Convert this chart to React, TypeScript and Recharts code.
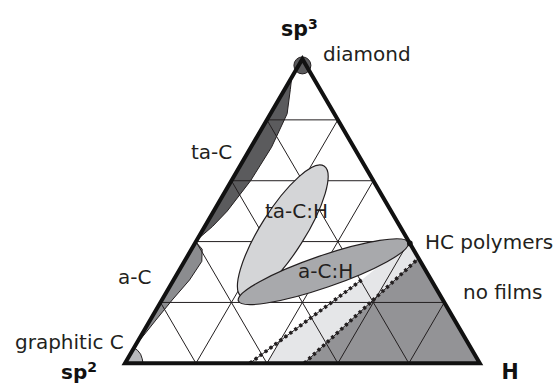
import React from "react";
import { Scatter, ScatterChart, XAxis, YAxis } from "recharts";

// ternary points are [sp3, H]; sp2 is what is left over
type TPoint = [number, number];

const CORNERS: TPoint[] = [
  [0, 0],
  [0, 1],
  [1, 0],
];
const GRID_LEVELS = [0.2, 0.4, 0.6, 0.8];

const DIAMOND: TPoint[] = [[0.979, 0.0105]];
const HC_POLYMERS: TPoint[] = [[0.394, 0.606]];

const TA_C: TPoint[] = [
  [0.94, 0], [0.9, 0.016], [0.82, 0.047], [0.71, 0.058],
  [0.6, 0.054], [0.5, 0.038], [0.45, 0.022], [0.405, 0],
];
const A_C: TPoint[] = [
  [0.399, 0], [0.375, 0.03], [0.335, 0.049], [0.274, 0.045],
  [0.208, 0.029], [0.142, 0.016], [0.093, 0.007], [0.06, 0],
];
const GRAPHITIC_C: TPoint[] = [
  [0, 0], [0.051, 0], [0.042, 0.015], [0.03, 0.029], [0.015, 0.041], [0, 0.051],
];

// ellipses: both ends of the long axis, then both ends of the short axis
const TA_C_H: TPoint[] = [[0.219, 0.219], [0.648, 0.237], [0.395, 0.3], [0.472, 0.156]];
const A_C_H: TPoint[] = [[0.205, 0.217], [0.397, 0.6], [0.253, 0.447], [0.352, 0.368]];

const LIMIT_LOW: TPoint[] = [[0, 0.352], [0.274, 0.53]];
const LIMIT_HIGH: TPoint[] = [[0, 0.505], [0.345, 0.655]];
const BAND: TPoint[] = [
  [0, 0.4], [0, 0.505], [0.345, 0.655], [0.397, 0.603],
  [0.397, 0.6], [0.274, 0.53], [0.074, 0.4],
];
const NO_FILMS: TPoint[] = [[0, 0.505], [0, 1], [0.345, 0.655]];

const LABELS = [
  { text: "diamond", x: 323, y: 60.5 },
  { text: "ta-C", x: 191, y: 158.5 },
  { text: "ta-C:H", x: 265, y: 217.5 },
  { text: "a-C:H", x: 298, y: 277.5 },
  { text: "a-C", x: 118, y: 283.5 },
  { text: "graphitic C", x: 15, y: 348.5 },
  { text: "HC polymers", x: 425, y: 248.5 },
  { text: "no films", x: 463, y: 298.5 },
];

const W = 556;
const H = 385;
// data frame so that sp2 corner sits at (125, 363.3) and the triangle is 354.8 x 304.3 px
const X_DOMAIN = [-0.3523, 1.2148];
const Y_DOMAIN = [-0.0713, 1.1939];

const toXY = ([sp3, h]: TPoint) => ({ x: h + sp3 / 2, y: sp3 });
const pts = (list: TPoint[]) => list.map(toXY);

const gridData = GRID_LEVELS.flatMap((k) =>
  pts([
    [k, 0], [k, 1 - k],
    [0, k], [1 - k, k],
    [0, 1 - k], [1 - k, 0],
  ]),
);

type P = { x: number; y: number };
const pathOf = (p: P[], close = false) =>
  p.map((q, i) => `${i ? "L" : "M"}${q.x},${q.y}`).join(" ") + (close ? " Z" : "");

const polygon =
  (fill: string, stroke = "none", strokeWidth = 1, close = false) =>
  (props: any) => (
    <path
      d={pathOf(props.points, close)}
      fill={fill}
      stroke={stroke}
      strokeWidth={strokeWidth}
      strokeLinejoin="miter"
    />
  );

const segments = (stroke: string, strokeWidth: number) => (props: any) => {
  const p: P[] = props.points;
  let d = "";
  for (let i = 0; i + 1 < p.length; i += 2) d += `M${p[i].x},${p[i].y} L${p[i + 1].x},${p[i + 1].y} `;
  return <path d={d} fill="none" stroke={stroke} strokeWidth={strokeWidth} />;
};

const ellipse = (fill: string) => (props: any) => {
  const [a, b, c, d] = props.points as P[];
  const cx = (a.x + b.x) / 2;
  const cy = (a.y + b.y) / 2;
  const rx = Math.hypot(b.x - a.x, b.y - a.y) / 2;
  const ry = Math.hypot(d.x - c.x, d.y - c.y) / 2;
  const angle = (Math.atan2(b.y - a.y, b.x - a.x) * 180) / Math.PI;
  return (
    <ellipse
      cx={cx}
      cy={cy}
      rx={rx}
      ry={ry}
      transform={`rotate(${angle} ${cx} ${cy})`}
      fill={fill}
      stroke="#231f20"
      strokeWidth={1.2}
    />
  );
};

const dotted = (props: any) => {
  const d = pathOf(props.points);
  return (
    <g>
      <path d={d} stroke="#231f20" strokeWidth={1} fill="none" />
      <path d={d} stroke="#231f20" strokeWidth={3.6} strokeDasharray="3 3.2" fill="none" />
    </g>
  );
};

const noSymbol = () => <g />;

export default function App() {
  return (
    <div style={{ position: "relative", width: W, height: H }}>
      <style>{"body{margin:0}"}</style>
      <ScatterChart width={W} height={H} margin={{ top: 0, right: 0, bottom: 0, left: 0 }}>
        <XAxis type="number" dataKey="x" domain={X_DOMAIN} allowDataOverflow hide />
        <YAxis type="number" dataKey="y" domain={Y_DOMAIN} allowDataOverflow hide />
        <Scatter data={pts(NO_FILMS)} line={polygon("#939396")} shape={noSymbol} isAnimationActive={false} />
        <Scatter data={pts(BAND)} line={polygon("#e5e6e8")} shape={noSymbol} isAnimationActive={false} />
        <Scatter data={pts(TA_C)} line={polygon("#5b5b5d", "#231f20", 1)} shape={noSymbol} isAnimationActive={false} />
        <Scatter data={pts(A_C)} line={polygon("#8b8c8f", "#231f20", 1)} shape={noSymbol} isAnimationActive={false} />
        <Scatter data={pts(GRAPHITIC_C)} line={polygon("#b7b8bb", "#231f20", 1)} shape={noSymbol} isAnimationActive={false} />
        <Scatter data={gridData} line={segments("#231f20", 1)} shape={noSymbol} isAnimationActive={false} />
        <Scatter data={pts(TA_C_H)} line={ellipse("#d4d5d7")} shape={noSymbol} isAnimationActive={false} />
        <Scatter data={pts(A_C_H)} line={ellipse("#a8a9ac")} shape={noSymbol} isAnimationActive={false} />
        <Scatter data={pts(LIMIT_LOW)} line={dotted} shape={noSymbol} isAnimationActive={false} />
        <Scatter data={pts(LIMIT_HIGH)} line={dotted} shape={noSymbol} isAnimationActive={false} />
        <Scatter
          data={pts(DIAMOND)}
          shape={(p: any) => <circle cx={p.cx} cy={p.cy} r={8.5} fill="#5b5b5d" stroke="#231f20" strokeWidth={1} />}
          isAnimationActive={false}
        />
        <Scatter data={pts(CORNERS)} line={polygon("none", "#111", 4, true)} shape={noSymbol} isAnimationActive={false} />
        <Scatter
          data={pts(HC_POLYMERS)}
          shape={(p: any) => <circle cx={p.cx} cy={p.cy} r={2.8} fill="#111" />}
          isAnimationActive={false}
        />
      </ScatterChart>
      <svg
        width={W}
        height={H}
        style={{ position: "absolute", left: 0, top: 0, pointerEvents: "none" }}
        fontFamily="'DejaVu Sans', Verdana, sans-serif"
      >
        {LABELS.map((l) => (
          <text key={l.text} x={l.x} y={l.y} fontSize={20} fill="#231f20">
            {l.text}
          </text>
        ))}
        <text x={281} y={36} fontSize={20.5} fontWeight="bold" fill="#111">
          sp<tspan fontSize={14} dy={-7}>3</tspan>
        </text>
        <text x={61} y={379} fontSize={20} fontWeight="bold" fill="#111">
          sp<tspan fontSize={14} dy={-7}>2</tspan>
        </text>
        <text x={501.5} y={379} fontSize={20.5} fontWeight="bold" fill="#111">
          H
        </text>
      </svg>
    </div>
  );
}
